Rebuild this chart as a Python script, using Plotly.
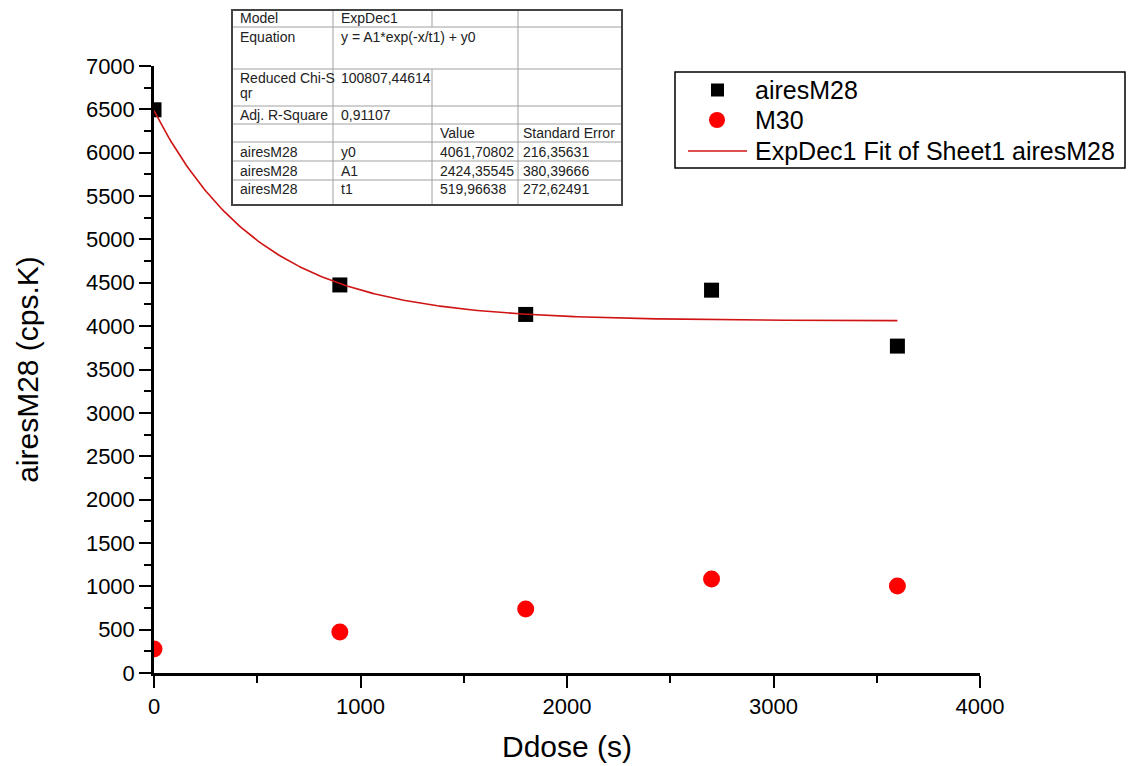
import plotly.graph_objects as go
import numpy as np

# ---------------- data ----------------
dose_s = [0, 900, 1800, 2700, 3600]
aires_m28 = [6495, 4475, 4135, 4415, 3770]
m30 = [278, 473, 738, 1084, 1003]

# ExpDec1 fit parameters (as reported in the chart's table)
fit_y0 = 4061.70802
fit_A1 = 2424.35545
fit_t1 = 519.96638
fit_x_end = 3600

x_ticks = [0, 1000, 2000, 3000, 4000]
y_ticks = list(range(0, 7001, 500))

series_names = ["airesM28", "M30", "ExpDec1 Fit of Sheet1 airesM28"]

# fit results table (cells left->right, top->bottom)
table_cells = [
    ["Model", "ExpDec1", "", ""],
    ["Equation", "y = A1*exp(-x/t1) + y0", "", ""],
    ["Reduced Chi-S|qr", "100807,44614", "", ""],
    ["Adj. R-Square", "0,91107", "", ""],
    ["", "", "Value", "Standard Error"],
    ["airesM28", "y0", "4061,70802", "216,35631"],
    ["airesM28", "A1", "2424,35545", "380,39666"],
    ["airesM28", "t1", "519,96638", "272,62491"],
]

FONT = "Liberation Sans, Arial, sans-serif"
FIT_COLOR = "#d01414"
M30_COLOR = "#ff0000"

# ---------------- geometry helpers ----------------
W, H = 1129, 766
PL, PR, PT, PB = 154, 980, 66, 673


def px(x):
    return (x - PL) / (PR - PL)


def py(y):
    return (PB - y) / (PB - PT)


fit_x = np.linspace(0, fit_x_end, 300)
fit_y = fit_A1 * np.exp(-fit_x / fit_t1) + fit_y0

fig = go.Figure()
fig.add_trace(go.Scatter(
    x=dose_s, y=aires_m28, mode="markers", name=series_names[0], showlegend=False,
    marker=dict(symbol="square", size=15, color="black", line=dict(width=0)),
))
fig.add_trace(go.Scatter(
    x=dose_s, y=m30, mode="markers", name=series_names[1], showlegend=False,
    marker=dict(symbol="circle", size=17, color=M30_COLOR, line=dict(width=0)),
))
fig.add_trace(go.Scatter(
    x=fit_x, y=fit_y, mode="lines", name=series_names[2], showlegend=False,
    line=dict(color=FIT_COLOR, width=1.6),
))

shapes = []
annotations = []

# ---------------- table ----------------
col_x = [232, 333, 432, 518, 622]
row_y = [10, 27, 69, 106, 124, 142, 161, 180, 205]
text_y = [18.5, 37, 78, 115, 133, 151.5, 170.5, 189.5]

shapes.append(dict(type="rect", xref="paper", yref="paper",
                   x0=px(col_x[0]), x1=px(col_x[-1]), y0=py(row_y[0]), y1=py(row_y[-1]),
                   fillcolor="white", line=dict(width=0), layer="below"))
for y in row_y[1:-1]:
    shapes.append(dict(type="line", xref="paper", yref="paper",
                       x0=px(col_x[0]), x1=px(col_x[-1]), y0=py(y), y1=py(y),
                       line=dict(color="#a0a0a0", width=1)))
for ci, x in enumerate(col_x[1:-1], start=1):
    if ci == 2:
        segs = [(row_y[0], row_y[1]), (row_y[2], row_y[-1])]
    else:
        segs = [(row_y[0], row_y[-1])]
    for a, b in segs:
        shapes.append(dict(type="line", xref="paper", yref="paper",
                           x0=px(x), x1=px(x), y0=py(a), y1=py(b),
                           line=dict(color="#a0a0a0", width=1)))
shapes.append(dict(type="rect", xref="paper", yref="paper",
                   x0=px(col_x[0]), x1=px(col_x[-1]), y0=py(row_y[0]), y1=py(row_y[-1]),
                   line=dict(color="#444444", width=2), layer="above"))

pad = [6, 6, 6, 3]
for ri, row in enumerate(table_cells):
    for ci, txt in enumerate(row):
        if not txt:
            continue
        for li, line in enumerate(txt.split("|")):
            annotations.append(dict(
                xref="paper", yref="paper", x=px(col_x[ci] + pad[ci]), y=py(text_y[ri] + 15 * li),
                text=line, showarrow=False, xanchor="left", yanchor="middle",
                font=dict(family=FONT, size=14, color="#222222"),
            ))

# ---------------- legend (drawn) ----------------
LX0, LX1, LY0, LY1 = 675, 1125, 72, 168
shapes.append(dict(type="rect", xref="paper", yref="paper",
                   x0=px(LX0), x1=px(LX1), y0=py(LY0), y1=py(LY1),
                   fillcolor="white", line=dict(color="black", width=1.5)))
leg_y = [90, 120, 151]
shapes.append(dict(type="rect", xref="paper", yref="paper",
                   x0=px(711), x1=px(724), y0=py(leg_y[0] - 6.5), y1=py(leg_y[0] + 6.5),
                   fillcolor="black", line=dict(width=0)))
shapes.append(dict(type="circle", xref="paper", yref="paper",
                   x0=px(709), x1=px(725), y0=py(leg_y[1] - 8), y1=py(leg_y[1] + 8),
                   fillcolor=M30_COLOR, line=dict(width=0)))
shapes.append(dict(type="line", xref="paper", yref="paper",
                   x0=px(688), x1=px(747), y0=py(leg_y[2]), y1=py(leg_y[2]),
                   line=dict(color=FIT_COLOR, width=1.6)))
for name, yy in zip(series_names, leg_y):
    annotations.append(dict(
        xref="paper", yref="paper", x=px(753), y=py(yy), text=name,
        showarrow=False, xanchor="left", yanchor="middle",
        font=dict(family=FONT, size=25, color="black"),
    ))

fig.update_layout(
    width=W, height=H,
    margin=dict(l=PL, r=W - PR, t=PT, b=H - PB),
    paper_bgcolor="white", plot_bgcolor="white",
    font=dict(family=FONT, color="black"),
    shapes=shapes,
    annotations=annotations,
    showlegend=False,
    xaxis=dict(
        range=[0, 4000], tickvals=x_ticks, ticks="outside", ticklen=12, tickwidth=2,
        tickcolor="black", showline=True, linewidth=2.5, linecolor="black",
        showgrid=False, zeroline=False, tickfont=dict(size=22, family=FONT),
        minor=dict(dtick=500, ticks="outside", ticklen=7, tickwidth=2, tickcolor="black"),
        ticklabelstandoff=0, automargin=False,
        title=dict(text="Ddose (s)", font=dict(size=30, family=FONT), standoff=18),
    ),
    yaxis=dict(
        range=[0, 7000], tickvals=y_ticks, ticks="outside", ticklen=12, tickwidth=2,
        tickcolor="black", showline=True, linewidth=2.5, linecolor="black",
        showgrid=False, zeroline=False, tickfont=dict(size=22, family=FONT),
        minor=dict(dtick=250, ticks="outside", ticklen=7, tickwidth=2, tickcolor="black"),
        automargin=False,
        title=dict(text="airesM28 (cps.K)", font=dict(size=30, family=FONT), standoff=39),
    ),
)

fig.write_html("out.html")
